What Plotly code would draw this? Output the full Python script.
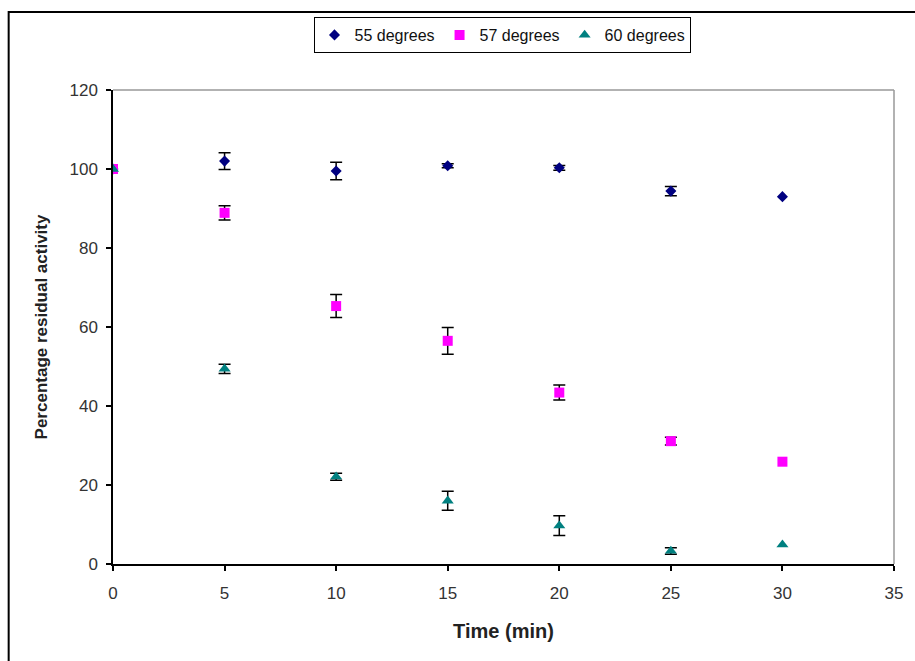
import plotly.graph_objects as go

# Sampling times (min)
time_min = [0, 5, 10, 15, 20, 25, 30]

# Percentage residual activity at each temperature, with error bar half-widths
# (None where no error bar was recorded)
act_55 = [100.0, 102.0, 99.5, 100.8, 100.3, 94.4, 93.0]
err_55 = [None, 2.1, 2.2, 0.5, 0.6, 1.2, None]

act_57 = [100.0, 88.9, 65.3, 56.5, 43.4, 31.1, 25.9]
err_57 = [None, 1.8, 2.9, 3.4, 1.9, 1.0, None]

act_60 = [100.0, 49.4, 22.1, 16.0, 9.7, 3.3, 4.9]
err_60 = [None, 1.2, 0.9, 2.4, 2.5, 0.8, None]

x_ticks = [0, 5, 10, 15, 20, 25, 30, 35]
y_ticks = [0, 20, 40, 60, 80, 100, 120]

series = [
    ("55 degrees", act_55, err_55, "diamond", "#000080", 8.5),
    ("57 degrees", act_57, err_57, "square", "#FF00FF", 10),
    ("60 degrees", act_60, err_60, "triangle-up", "#008080", 10.5),
]

fig = go.Figure()
for name, vals, errs, sym, col, sz in series:
    marker = dict(symbol=sym, color=col, size=sz, line=dict(width=0))
    with_err = [i for i, e in enumerate(errs) if e is not None]
    no_err = [i for i, e in enumerate(errs) if e is None]
    # error bars only where a spread was measured
    fig.add_trace(go.Scatter(
        x=[time_min[i] for i in with_err], y=[vals[i] for i in with_err],
        name=name, legendgroup=name, mode="markers", marker=marker,
        showlegend=False,
        error_y=dict(type="data", array=[errs[i] for i in with_err], visible=True,
                     color="#000000", thickness=1.5, width=6),
    ))
    fig.add_trace(go.Scatter(
        x=[time_min[i] for i in no_err], y=[vals[i] for i in no_err],
        name=name, legendgroup=name, mode="markers", marker=marker,
        showlegend=True,
    ))

FONT = "Arial, Liberation Sans, sans-serif"
axis_font = dict(family=FONT, size=17, color="#333333")

fig.update_layout(
    width=915, height=661,
    margin=dict(l=113, r=16, t=90, b=97),
    paper_bgcolor="white", plot_bgcolor="white",
    showlegend=True,
    legend=dict(
        orientation="h", x=0.258, y=1.154, xanchor="left", yanchor="top",
        bordercolor="#000000", borderwidth=1, bgcolor="white",
        font=dict(family=FONT, size=16, color="#111111"),
        itemwidth=30, tracegroupgap=0,
    ),
    xaxis=dict(
        range=[0, 35], tickvals=x_ticks, showgrid=False, zeroline=False,
        showline=True, linecolor="#000000", linewidth=1.5,
        ticks="outside", ticklen=5, tickcolor="#000000", tickwidth=1.5,
        tickfont=axis_font, ticklabelstandoff=8,
        title=dict(text="<b>Time (min)</b>",
                   font=dict(family=FONT, size=20, color="#222222"), standoff=22),
    ),
    yaxis=dict(
        range=[0, 120], tickvals=y_ticks, showgrid=False, zeroline=False,
        showline=True, linecolor="#000000", linewidth=1.5,
        ticks="outside", ticklen=5, tickcolor="#000000", tickwidth=1.5,
        tickfont=axis_font, ticklabelstandoff=5,
        title=dict(text="<b>Percentage residual activity</b>",
                   font=dict(family=FONT, size=17, color="#222222"), standoff=18),
    ),
    shapes=[
        # gray top and right edges of the plotting area
        dict(type="line", xref="paper", yref="paper", x0=0, x1=1, y0=1, y1=1,
             line=dict(color="#999999", width=1.5)),
        dict(type="line", xref="paper", yref="paper", x0=1, x1=1, y0=0, y1=1,
             line=dict(color="#999999", width=1.5)),
        # outer frame around the chart
        dict(type="rect", xref="paper", yref="paper",
             x0=-105 / 786, x1=1.05, y0=-0.25, y1=(564 - 12) / 474,
             line=dict(color="#000000", width=2)),
    ],
)

fig.write_html("out.html")
